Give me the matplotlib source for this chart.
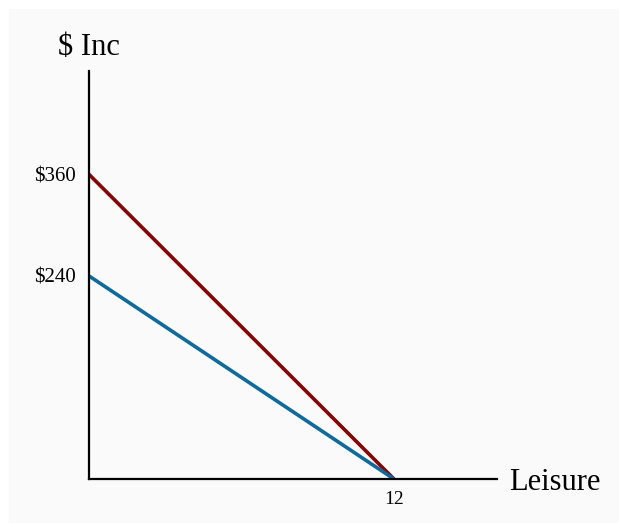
import matplotlib.pyplot as plt
from matplotlib.patches import Rectangle

# budget lines: leisure hours vs income
leisure = [0, 12]
income_high = [360, 0]  # $30/hr wage
income_low = [240, 0]   # $20/hr wage
y_ticks = [240, 360]
y_labels = ["$240", "$360"]
x_ticks = [12]
x_labels = ["12"]

plt.rcParams["font.family"] = ["Liberation Serif", "DejaVu Serif"]

fig = plt.figure(figsize=(6.19, 5.23), dpi=100)
fig.patch.set_facecolor("white")
# light panel behind the chart
fig.patches.append(Rectangle((9 / 619, 0), 1, 1 - 9 / 523, transform=fig.transFigure,
                             facecolor="#fafafa", edgecolor="none", zorder=-10))

ax = fig.add_axes([88.7 / 619, 44 / 523, 408.3 / 619, 408 / 523])
ax.set_facecolor("none")

ax.plot(leisure, income_high, color="#850505", linewidth=2.6, solid_capstyle="butt")
ax.plot(leisure, income_low, color="#0f6b9b", linewidth=2.6, solid_capstyle="butt")

ax.set_xlim(0, 16.05)
ax.set_ylim(0, 481.7)
ax.set_xticks(x_ticks, x_labels, fontsize=14)
ax.set_yticks(y_ticks, y_labels, fontsize=15)
ax.tick_params(axis="both", length=0)
ax.tick_params(axis="x", pad=9)
ax.tick_params(axis="y", pad=9)

for side in ("top", "right"):
    ax.spines[side].set_visible(False)
for side in ("left", "bottom"):
    ax.spines[side].set_linewidth(1.6)
    ax.spines[side].set_color("black")

ax.annotate("$ Inc", xy=(0, 1), xycoords="axes fraction", xytext=(0, 11.5),
            textcoords="offset points", ha="center", va="baseline", fontsize=22)
ax.annotate("Leisure", xy=(1, 0), xycoords="axes fraction", xytext=(8.5, 0),
            textcoords="offset points", ha="left", va="center_baseline", fontsize=22)

fig.savefig("out.png", dpi=100, facecolor=fig.get_facecolor())
